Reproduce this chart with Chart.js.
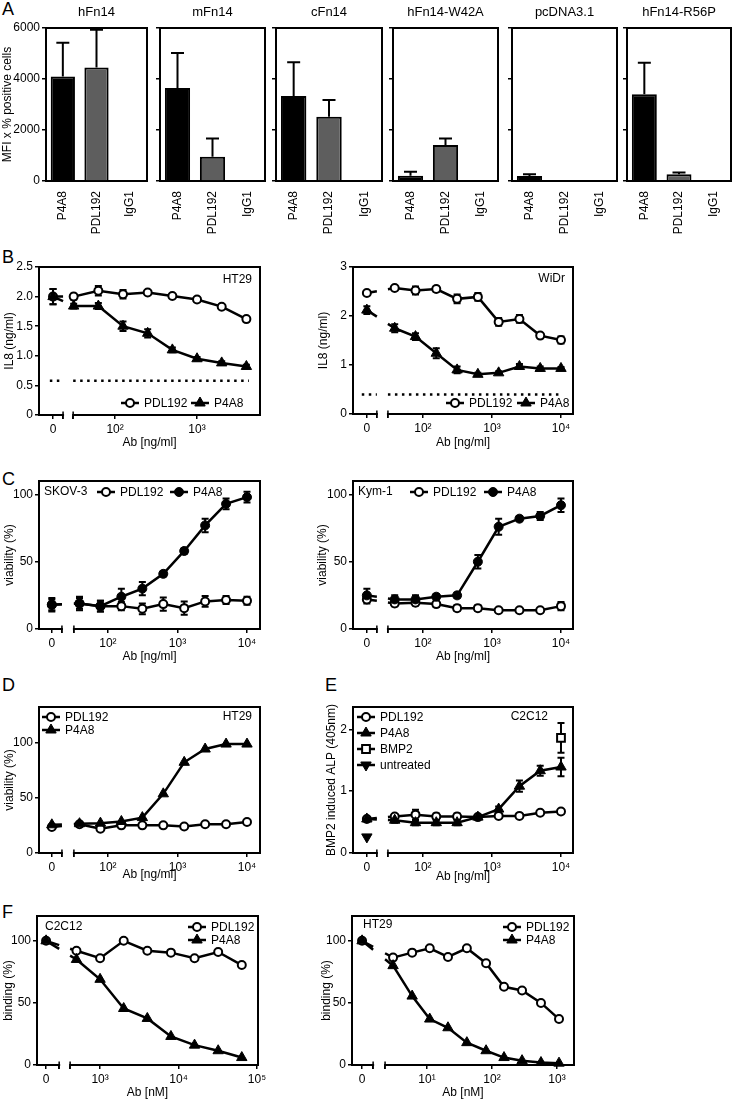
<!DOCTYPE html>
<html>
<head>
<meta charset="utf-8">
<script src="https://cdn.jsdelivr.net/npm/chart.js@4.4.1/dist/chart.umd.min.js"></script>
<style>
  html, body { margin: 0; padding: 0; background: #fff; overflow: hidden; }
  #fig { position: relative; width: 733px; height: 1100px; font-family: "Liberation Sans", Arial, sans-serif; }
  .lt { position: absolute; font-size: 18px; line-height: 1; color: #000; }
  canvas { position: absolute; }
</style>
</head>
<body>
<div id="fig">
  <div class="lt" style="left:2px;top:0px">A</div>
  <div class="lt" style="left:2px;top:248px">B</div>
  <div class="lt" style="left:2px;top:470px">C</div>
  <div class="lt" style="left:2px;top:676px">D</div>
  <div class="lt" style="left:325px;top:676px">E</div>
  <div class="lt" style="left:2px;top:903px">F</div>
</div>
<script>
/* Fn14 antibody figure, panels A-F */

// ---- A: binding to transfected cells ----
const abNames = ['P4A8', 'PDL192', 'IgG1'];
const receptors = ['hFn14', 'mFn14', 'cFn14', 'hFn14-W42A', 'pcDNA3.1', 'hFn14-R56P'];
const mfiP4A8 = [4100, 3650, 3330, 210, 200, 3400];
const mfiP4A8Sd = [1320, 1370, 1330, 150, 60, 1240];
const mfiPDL192 = [4450, 950, 2520, 1410, 30, 260];
const mfiPDL192Sd = [1480, 720, 660, 260, 0, 70];
const mfiIgG1 = [30, 20, 10, 5, 10, 40];
const mfiTicks = [0, 2000, 4000, 6000];

// ---- B: IL8 release ----
const doseHT = [0, 31.25, 62.5, 125, 250, 500, 1000, 2000, 4000];
const il8HtP4 = [2.00, 1.84, 1.84, 1.50, 1.38, 1.10, 0.95, 0.88, 0.82];
const il8HtP4Sd = [0.13, 0.04, 0.05, 0.08, 0.07, 0.04, 0.03, 0.03, 0.03];
const il8HtPDL = [2.00, 2.00, 2.10, 2.04, 2.07, 2.01, 1.95, 1.83, 1.62];
const il8HtPDLSd = [0.13, 0.05, 0.08, 0.07, 0.03, 0.03, 0.03, 0.03, 0.03];
const il8HtLimit = 0.58;

const dose = [0, 39, 78, 156, 312.5, 625, 1250, 2500, 5000, 10000];
const il8WiP4 = [2.12, 1.75, 1.58, 1.24, 0.90, 0.81, 0.84, 0.97, 0.93, 0.93];
const il8WiP4Sd = [0.08, 0.08, 0.07, 0.10, 0.07, 0.03, 0.03, 0.05, 0.04, 0.03];
const il8WiPDL = [2.47, 2.57, 2.52, 2.55, 2.35, 2.39, 1.88, 1.94, 1.60, 1.51];
const il8WiPDLSd = [0.03, 0.03, 0.08, 0.05, 0.09, 0.08, 0.08, 0.08, 0.03, 0.07];
const il8WiLimit = 0.4;

// ---- C: viability ----
const skovP4 = [18, 19, 17, 24, 30, 41, 58, 77, 93, 98];
const skovP4Sd = [5, 5, 4, 6, 5, 2, 2, 5, 4, 4];
const skovPDL = [18, 19, 17, 17, 15, 18.5, 15.5, 20.5, 21.5, 21];
const skovPDLSd = [4, 4, 4, 3, 4, 5, 5, 4, 3, 3];
const kymP4 = [25, 22, 22, 24, 25, 50, 76, 82, 84, 92];
const kymP4Sd = [5, 3, 3, 2, 2, 5, 6, 2, 3, 5];
const kymPDL = [22, 19, 19.5, 18.5, 15.5, 15.5, 14, 14, 14, 17];
const kymPDLSd = [3, 2, 2, 2, 2, 2, 1, 1, 1, 3];

// ---- D: HT29 viability ----
const htViaP4 = [25.5, 26.5, 27, 28.5, 32, 53.5, 82, 94, 98.5, 98.5];
const htViaPDL = [23.5, 26, 22, 25, 25, 25, 24, 26, 26, 28];

// ---- E: ALP in C2C12 ----
const alpP4 = [0.55, 0.53, 0.49, 0.49, 0.49, 0.58, 0.71, 1.08, 1.33, 1.39];
const alpP4Sd = [0.03, 0.04, 0.04, 0.04, 0.04, 0.03, 0.04, 0.09, 0.08, 0.15];
const alpPDL = [0.55, 0.59, 0.62, 0.59, 0.59, 0.58, 0.60, 0.60, 0.65, 0.67];
const alpPDLSd = [0.03, 0.04, 0.08, 0.05, 0.05, 0.03, 0.03, 0.03, 0.03, 0.03];
const bmp2Dose = [10000];
const alpBmp2 = [1.86];
const alpBmp2Sd = [0.24];
const untreatedDose = [0];
const alpUntreated = [0.26];

// ---- F: competition binding ----
const doseC2 = [0, 500, 1000, 2000, 4000, 8000, 16000, 32000, 64000];
const bindC2P4 = [100, 85, 69, 45.5, 37.5, 23, 16, 11.5, 6];
const bindC2PDL = [100, 92, 86, 100, 92, 90.5, 86, 91, 80.5];
const doseHTnM = [0, 3, 5.9, 11, 21, 41, 81, 153, 290, 567, 1074];
const bindHtP4 = [100, 80, 55.5, 37, 30, 18, 11.5, 6, 3.5, 2, 1.5];
const bindHtPDL = [100, 86.5, 90.5, 94, 87, 94, 82, 63, 60, 50, 37];

// ---------------------------------------------------------------
const FONT = '"Liberation Sans", Arial, sans-serif';
Chart.defaults.font.family = FONT;
Chart.defaults.font.size = 12;
Chart.defaults.color = '#000';
const fig = document.getElementById('fig');

const AXIS = {
  grid: { display: true, drawOnChartArea: false, drawTicks: true, tickLength: 4, color: '#000', lineWidth: 1.5 },
  border: { display: true, color: '#000', width: 2 }
};

const OPEN = { pointStyle: 'circle', pointRadius: 4, pointBackgroundColor: '#fff', pointBorderWidth: 2 };
const TRI = { pointStyle: 'triangle', pointRadius: 6, pointBackgroundColor: '#000', pointBorderWidth: 1 };
const DOT = { pointStyle: 'circle', pointRadius: 4.5, pointBackgroundColor: '#000', pointBorderWidth: 1 };
const SQR = { pointStyle: 'rect', pointRadius: 5.5, pointBackgroundColor: '#fff', pointBorderWidth: 2 };
const DOWN = { pointStyle: 'triangle', pointRotation: 180, pointRadius: 6, pointBackgroundColor: '#000', pointBorderWidth: 1 };

// dash the zero->first segment so it breaks where the x axis breaks
function gapDash(gap) {
  return c => {
    if (c.p0DataIndex !== 0) return undefined;
    const xs = c.chart.scales.x;
    const a = xs.getPixelForValue(gap[0]), b = xs.getPixelForValue(gap[1]);
    const dx = c.p1.x - c.p0.x, L = Math.hypot(dx, c.p1.y - c.p0.y);
    if (dx <= 0) return undefined;
    const f1 = Math.max(0, (a - c.p0.x) / dx), f2 = Math.min(1, (b - c.p0.x) / dx);
    return [f1 * L, (f2 - f1) * L, L];
  };
}

function series(label, conc, vals, sd, mark, xa, showLine = true) {
  return Object.assign({
    label, sd, showLine,
    data: conc.map((c, i) => ({ x: c === 0 ? xa.zero : c, y: vals[i] })),
    borderColor: '#000', borderWidth: 2.5, pointBorderColor: '#000',
    pointHoverRadius: 0, tension: 0, clip: false,
    segment: { borderDash: gapDash(xa.gap) }
  }, mark);
}

function limitLine(value, xa, from, to) {
  return {
    label: 'limit', showLine: true, pointRadius: 0, borderColor: '#000', borderWidth: 2.5,
    borderDash: [2.5, 4.5], borderCapStyle: 'butt', spanGaps: false,
    data: [{ x: from, y: value }, { x: xa.gap[0], y: value }, { x: xa.gap[0], y: null },
           { x: xa.gap[1], y: value }, { x: to, y: value }]
  };
}

const errorBars = {
  id: 'errorBars',
  beforeDatasetsDraw(chart) {
    const { ctx } = chart, y = chart.scales.y;
    chart.data.datasets.forEach((ds, i) => {
      if (!ds.sd) return;
      chart.getDatasetMeta(i).data.forEach((el, j) => {
        const s = ds.sd[j];
        if (!s) return;
        const d = ds.data[j], v = typeof d === 'object' ? d.y : d;
        const top = y.getPixelForValue(v + s);
        const bot = ds.upOnly ? el.y : y.getPixelForValue(v - s);
        const w = ds.capW || 3.5;
        ctx.save();
        ctx.strokeStyle = '#000'; ctx.lineWidth = 2;
        ctx.beginPath();
        ctx.moveTo(el.x, top); ctx.lineTo(el.x, bot);
        ctx.moveTo(el.x - w, top); ctx.lineTo(el.x + w, top);
        if (!ds.upOnly) { ctx.moveTo(el.x - w, bot); ctx.lineTo(el.x + w, bot); }
        ctx.stroke();
        ctx.restore();
      });
    });
  }
};

const frame = {
  id: 'frame',
  afterDraw(chart, args, o) {
    const { ctx, chartArea: a } = chart;
    ctx.save();
    ctx.strokeStyle = '#000'; ctx.lineWidth = 2;
    ctx.beginPath();
    ctx.moveTo(a.left - 1, a.top); ctx.lineTo(a.right, a.top); ctx.lineTo(a.right, a.bottom + 1);
    ctx.stroke();
    if (o.gap) {
      const xs = chart.scales.x;
      const g0 = xs.getPixelForValue(o.gap[0]), g1 = xs.getPixelForValue(o.gap[1]);
      ctx.fillStyle = '#fff';
      ctx.fillRect(g0 + 1, a.bottom - 1.6, g1 - g0 - 2, 3.2);
      ctx.lineWidth = 1.5;
      ctx.beginPath();
      [g0, g1].forEach(g => { ctx.moveTo(g, a.bottom - 3.5); ctx.lineTo(g, a.bottom + 4); });
      ctx.stroke();
    }
    ctx.restore();
  }
};

const notes = {
  id: 'notes',
  afterDraw(chart, args, o) {
    const ctx = chart.ctx, cv = chart.canvas;
    const ox = parseFloat(cv.style.left), oy = parseFloat(cv.style.top);
    ctx.save();
    ctx.textBaseline = 'middle';
    (o.texts || []).forEach(t => {
      ctx.fillStyle = '#000';
      ctx.font = `${t.size || 12}px ${FONT}`;
      ctx.textAlign = t.align || 'left';
      ctx.fillText(t.t, t.x - ox, t.y - oy);
    });
    ctx.font = `12px ${FONT}`;
    ctx.textAlign = 'left';
    (o.keys || []).forEach(k => {
      const ds = chart.data.datasets[k.ds];
      const x = k.x - ox, y = k.y - oy;
      ctx.setLineDash([]);
      ctx.strokeStyle = '#000'; ctx.lineWidth = 2.5;
      ctx.beginPath(); ctx.moveTo(x, y); ctx.lineTo(x + 18, y); ctx.stroke();
      ctx.fillStyle = ds.pointBackgroundColor; ctx.lineWidth = ds.pointBorderWidth;
      Chart.helpers.drawPoint(ctx, {
        pointStyle: ds.pointStyle, radius: ds.pointRadius,
        rotation: ds.pointRotation || 0, borderWidth: ds.pointBorderWidth
      }, x + 9, y);
      ctx.fillStyle = '#000';
      ctx.fillText(ds.label, x + 23, y + 0.5);
    });
    ctx.restore();
  }
};

function mount(plot, m) {
  const [l, t, r, b] = plot, [ml, mt, mr, mb] = m;
  const c = document.createElement('canvas');
  const w = r - l + ml + mr, h = b - t + mt + mb;
  c.width = w; c.height = h;
  c.style.left = (l - ml) + 'px'; c.style.top = (t - mt) + 'px';
  c.style.width = w + 'px'; c.style.height = h + 'px';
  fig.appendChild(c);
  return c;
}

const BASE = { responsive: false, animation: false, events: [], devicePixelRatio: 1 };

// ---- A: six small bar charts ----
const A_PLOTS = [[46, 28, 147, 181], [160, 28, 265, 181], [276, 28, 382, 181],
                 [393, 28, 498, 181], [512, 28, 617, 181], [627, 28, 731, 181]];
receptors.forEach((name, i) => {
  const first = i === 0;
  const plot = A_PLOTS[i];
  const m = [first ? 46 : 8, 28, 3, 64];
  new Chart(mount(plot, m), {
    type: 'bar',
    data: {
      labels: abNames,
      datasets: [{
        data: [mfiP4A8[i], mfiPDL192[i], mfiIgG1[i]],
        sd: [mfiP4A8Sd[i], mfiPDL192Sd[i], 0], upOnly: true, capW: 6.5,
        backgroundColor: ['#000', '#5e5e5e', '#000'], borderColor: '#000', borderWidth: 2,
        barPercentage: 0.72, categoryPercentage: 1
      }]
    },
    options: {
      ...BASE,
      layout: { padding: { left: 0, top: m[1], right: m[2], bottom: 0 } },
      plugins: {
        legend: { display: false }, tooltip: { enabled: false },
        notes: { texts: [{ t: name, x: (plot[0] + plot[2]) / 2, y: 12, align: 'center', size: 13 }] }
      },
      scales: {
        x: {
          grid: { display: false }, border: AXIS.border,
          afterFit: s => { s.height = m[3]; },
          ticks: { minRotation: 90, maxRotation: 90, padding: 2, autoSkip: false }
        },
        y: {
          min: 0, max: 6000, ...AXIS,
          afterBuildTicks: s => { s.ticks = mfiTicks.map(v => ({ value: v })); },
          afterFit: s => { s.width = m[0]; },
          ticks: { padding: 2, autoSkip: false, callback: (v, j) => first ? String(mfiTicks[j]) : '' },
          title: { display: first, text: 'MFI x % positive cells', padding: { top: 0, bottom: 0 } }
        }
      }
    },
    plugins: [errorBars, frame, notes]
  });
});

// ---- dose-response charts ----
function doseChart(p) {
  const xa = p.xa;
  new Chart(mount(p.plot, p.m), {
    type: 'line',
    data: { datasets: p.datasets },
    options: {
      ...BASE,
      layout: { padding: { left: 0, top: p.m[1], right: p.m[2], bottom: 0 } },
      plugins: {
        legend: { display: false }, tooltip: { enabled: false },
        frame: { gap: xa.gap }, notes: { keys: p.keys, texts: p.texts }
      },
      scales: {
        x: {
          type: 'logarithmic', bounds: 'data', min: xa.min, max: xa.max, ...AXIS,
          afterBuildTicks: s => { s.ticks = xa.ticks.map(v => ({ value: v })); },
          afterFit: s => { s.height = p.m[3]; },
          ticks: { autoSkip: false, maxRotation: 0, minRotation: 0, padding: 3, callback: (v, i) => xa.labels[i] },
          title: { display: true, text: p.xTitle, padding: { top: 0, bottom: 0 } }
        },
        y: {
          type: 'linear', min: 0, max: p.yMax, ...AXIS,
          afterBuildTicks: s => { s.ticks = p.yTicks.map(v => ({ value: v })); },
          afterFit: s => { s.width = p.m[0]; },
          ticks: { autoSkip: false, padding: 2, callback: (v, i) => p.yLabels[i] },
          title: { display: true, text: p.yTitle, padding: { top: p.yPad, bottom: 0 } }
        }
      }
    },
    plugins: [errorBars, frame, notes]
  });
}

// x axes (concentration units; zero dose drawn left of the axis break)
const xHT = { min: 11.8, max: 5865, zero: 17.5, gap: [23.2, 30.8],
  ticks: [17.5, 23.2, 30.8, 100, 1000], labels: ['0', '', '', '10²', '10³'] };
const xRight = { min: 9.7, max: 14930, zero: 15.4, gap: [21.5, 31.1],
  ticks: [15.4, 21.5, 31.1, 100, 1000, 10000], labels: ['0', '', '', '10²', '10³', '10⁴'] };
const xLeft = { min: 10.2, max: 15380, zero: 15.6, gap: [21.8, 32.4],
  ticks: [15.6, 21.8, 32.4, 100, 1000, 10000], labels: ['0', '', '', '10²', '10³', '10⁴'] };
const xC2 = { min: 157, max: 103000, zero: 205, gap: [301, 415],
  ticks: [205, 301, 415, 1000, 10000, 100000], labels: ['0', '', '', '10³', '10⁴', '10⁵'] };
const xHTnM = { min: 0.70, max: 1827, zero: 1, gap: [1.48, 2.26],
  ticks: [1, 1.48, 2.26, 10, 100, 1000], labels: ['0', '', '', '10¹', '10²', '10³'] };

const PCT = { yTicks: [0, 50, 100], yLabels: ['0', '50', '100'] };

// B left: HT29 IL8
doseChart({
  plot: [39, 267, 260, 415], m: [39, 12, 14, 35], xa: xHT,
  xTitle: 'Ab [ng/ml]', yTitle: 'IL8 (ng/ml)', yPad: 2, yMax: 2.5,
  yTicks: [0, 0.5, 1, 1.5, 2, 2.5], yLabels: ['0', '0.5', '1.0', '1.5', '2.0', '2.5'],
  datasets: [
    series('P4A8', doseHT, il8HtP4, il8HtP4Sd, TRI, xHT),
    series('PDL192', doseHT, il8HtPDL, il8HtPDLSd, OPEN, xHT),
    limitLine(il8HtLimit, xHT, 16, 4300)
  ],
  texts: [{ t: 'HT29', x: 252, y: 280, align: 'right' }],
  keys: [{ ds: 1, x: 121, y: 403 }, { ds: 0, x: 191, y: 403 }]
});

// B right: WiDr IL8
doseChart({
  plot: [353, 267, 573, 414], m: [40, 12, 14, 36], xa: xRight,
  xTitle: 'Ab [ng/ml]', yTitle: 'IL8 (ng/ml)', yPad: 3, yMax: 3,
  yTicks: [0, 1, 2, 3], yLabels: ['0', '1', '2', '3'],
  datasets: [
    series('P4A8', dose, il8WiP4, il8WiP4Sd, TRI, xRight),
    series('PDL192', dose, il8WiPDL, il8WiPDLSd, OPEN, xRight),
    limitLine(il8WiLimit, xRight, 13, 10000)
  ],
  texts: [{ t: 'WiDr', x: 565, y: 279, align: 'right' }],
  keys: [{ ds: 1, x: 446, y: 403 }, { ds: 0, x: 517, y: 403 }]
});

// C left: SKOV-3
doseChart({
  plot: [39, 481, 260, 629], m: [39, 12, 14, 35], xa: xLeft,
  xTitle: 'Ab [ng/ml]', yTitle: 'viability (%)', yPad: 2, yMax: 110, ...PCT,
  datasets: [
    series('P4A8', dose, skovP4, skovP4Sd, DOT, xLeft),
    series('PDL192', dose, skovPDL, skovPDLSd, OPEN, xLeft)
  ],
  texts: [{ t: 'SKOV-3', x: 44, y: 492 }],
  keys: [{ ds: 1, x: 97, y: 492 }, { ds: 0, x: 170, y: 492 }]
});

// C right: Kym-1
doseChart({
  plot: [353, 481, 573, 629], m: [40, 12, 14, 35], xa: xRight,
  xTitle: 'Ab [ng/ml]', yTitle: 'viability (%)', yPad: 2, yMax: 110, ...PCT,
  datasets: [
    series('P4A8', dose, kymP4, kymP4Sd, DOT, xRight),
    series('PDL192', dose, kymPDL, kymPDLSd, OPEN, xRight)
  ],
  texts: [{ t: 'Kym-1', x: 358, y: 492 }],
  keys: [{ ds: 1, x: 410, y: 492 }, { ds: 0, x: 484, y: 492 }]
});

// D: HT29 viability
doseChart({
  plot: [39, 707, 260, 853], m: [39, 12, 14, 29], xa: xLeft,
  xTitle: 'Ab [ng/ml]', yTitle: 'viability (%)', yPad: 2, yMax: 132, ...PCT,
  datasets: [
    series('P4A8', dose, htViaP4, null, TRI, xLeft),
    series('PDL192', dose, htViaPDL, null, OPEN, xLeft)
  ],
  texts: [{ t: 'HT29', x: 252, y: 717, align: 'right' }],
  keys: [{ ds: 1, x: 42, y: 717 }, { ds: 0, x: 42, y: 730 }]
});

// E: C2C12 ALP
doseChart({
  plot: [353, 707, 573, 853], m: [40, 12, 14, 31], xa: xRight,
  xTitle: 'Ab [ng/ml]', yTitle: 'BMP2 induced ALP (405nm)', yPad: 11, yMax: 2.36,
  yTicks: [0, 1, 2], yLabels: ['0', '1', '2'],
  datasets: [
    series('P4A8', dose, alpP4, alpP4Sd, TRI, xRight),
    series('PDL192', dose, alpPDL, alpPDLSd, OPEN, xRight),
    series('BMP2', bmp2Dose, alpBmp2, alpBmp2Sd, SQR, xRight, false),
    series('untreated', untreatedDose, alpUntreated, null, DOWN, xRight, false)
  ],
  texts: [{ t: 'C2C12', x: 548, y: 717, align: 'right' }],
  keys: [{ ds: 1, x: 357, y: 717 }, { ds: 0, x: 357, y: 733 }, { ds: 2, x: 357, y: 749 }, { ds: 3, x: 357, y: 765 }]
});

// F left: C2C12 binding
doseChart({
  plot: [37, 916, 258, 1065], m: [37, 12, 14, 35], xa: xC2,
  xTitle: 'Ab [nM]', yTitle: 'binding (%)', yPad: 1, yMax: 120, ...PCT,
  datasets: [
    series('P4A8', doseC2, bindC2P4, null, TRI, xC2),
    series('PDL192', doseC2, bindC2PDL, null, OPEN, xC2)
  ],
  texts: [{ t: 'C2C12', x: 45, y: 927 }],
  keys: [{ ds: 1, x: 188, y: 927 }, { ds: 0, x: 188, y: 940 }]
});

// F right: HT29 binding
doseChart({
  plot: [352, 916, 574, 1065], m: [40, 12, 14, 35], xa: xHTnM,
  xTitle: 'Ab [nM]', yTitle: 'binding (%)', yPad: 7, yMax: 120, ...PCT,
  datasets: [
    series('P4A8', doseHTnM, bindHtP4, null, TRI, xHTnM),
    series('PDL192', doseHTnM, bindHtPDL, null, OPEN, xHTnM)
  ],
  texts: [{ t: 'HT29', x: 363, y: 925 }],
  keys: [{ ds: 1, x: 503, y: 927 }, { ds: 0, x: 503, y: 940 }]
});
</script>
</body>
</html>
